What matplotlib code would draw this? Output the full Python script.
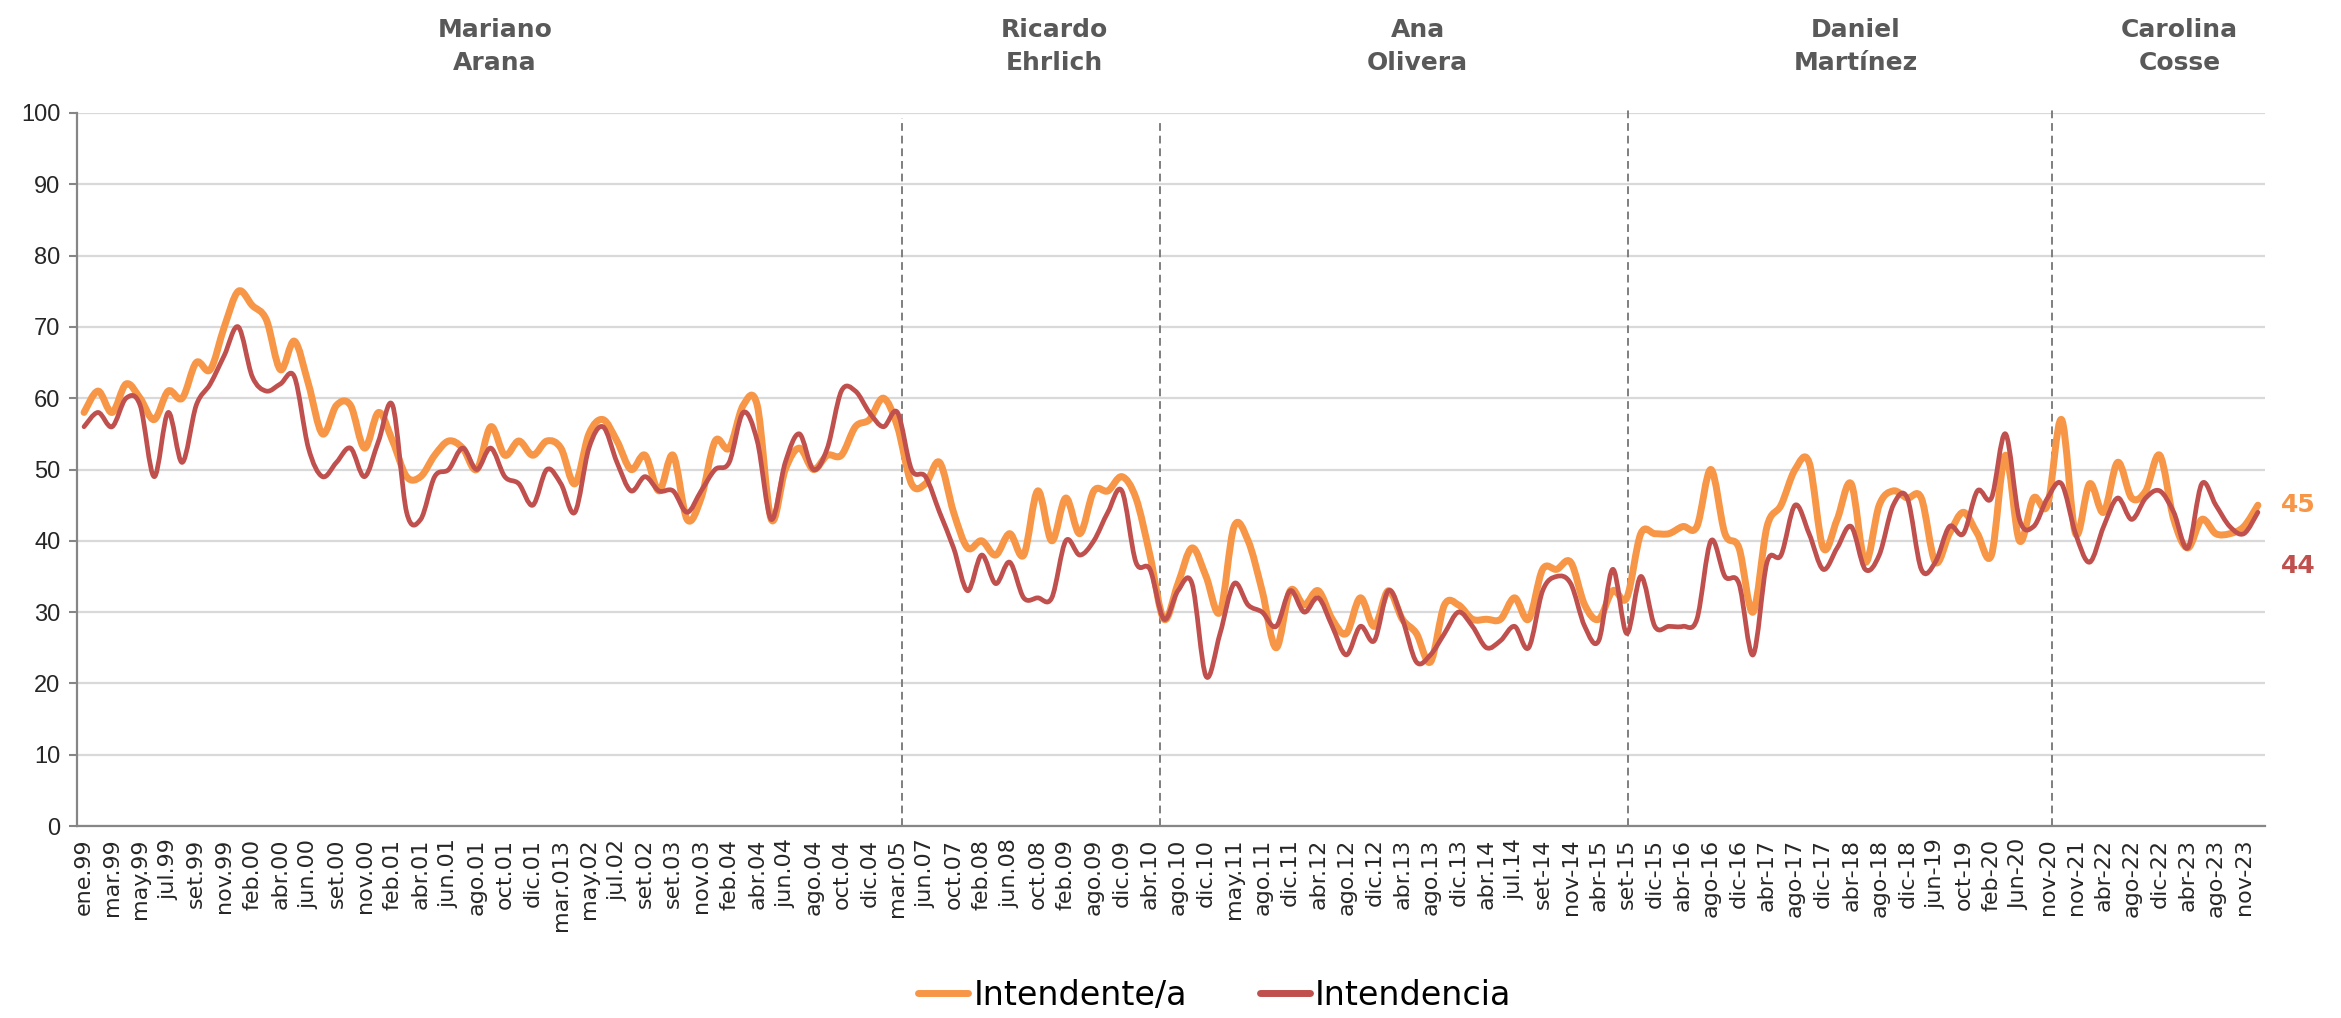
import matplotlib
matplotlib.use("Agg")
import matplotlib.pyplot as plt
import numpy as np
from matplotlib.path import Path
from matplotlib.patches import PathPatch
from matplotlib.lines import Line2D

# tick labels (one every two survey points)
tick_labels = ["ene.99", "mar.99", "may.99", "jul.99", "set.99", "nov.99", "feb.00", "abr.00",
               "jun.00", "set.00", "nov.00", "feb.01", "abr.01", "jun.01", "ago.01", "oct.01",
               "dic.01", "mar.013", "may.02", "jul.02", "set.02", "set.03", "nov.03", "feb.04",
               "abr.04", "jun.04", "ago.04", "oct.04", "dic.04", "mar.05", "jun.07", "oct.07",
               "feb.08", "jun.08", "oct.08", "feb.09", "ago.09", "dic.09", "abr.10", "ago.10",
               "dic.10", "may.11", "ago.11", "dic.11", "abr.12", "ago.12", "dic.12", "abr.13",
               "ago.13", "dic.13", "abr.14", "jul.14", "set-14", "nov-14", "abr-15", "set-15",
               "dic-15", "abr-16", "ago-16", "dic-16", "abr-17", "ago-17", "dic-17", "abr-18",
               "ago-18", "dic-18", "jun-19", "oct-19", "feb-20", "Jun-20", "nov-20", "nov-21",
               "abr-22", "ago-22", "dic-22", "abr-23", "ago-23", "nov-23"]

intendente = [58, 61, 58, 62, 60, 57, 61, 60, 65, 64, 70, 75, 73, 71, 64, 68, 62, 55, 59, 59,
              53, 58, 54, 49, 49, 52, 54, 53, 50, 56, 52, 54, 52, 54, 53, 48, 55, 57, 54, 50,
              52, 47, 52, 43, 46, 54, 53, 59, 59, 43, 50, 53, 50, 52, 52, 56, 57, 60, 56, 48,
              48, 51, 44, 39, 40, 38, 41, 38, 47, 40, 46, 41, 47, 47, 49, 46, 38, 29, 34, 39,
              35, 30, 42, 40, 33, 25, 33, 31, 33, 29, 27, 32, 28, 33, 29, 27, 23, 31, 31, 29,
              29, 29, 32, 29, 36, 36, 37, 31, 29, 33, 32, 41, 41, 41, 42, 42, 50, 41, 39, 30,
              42, 45, 50, 51, 39, 43, 48, 37, 45, 47, 46, 46, 37, 41, 44, 41, 38, 52, 40, 46,
              45, 57, 41, 48, 44, 51, 46, 47, 52, 43, 39, 43, 41, 41, 42, 45]

intendencia = [56, 58, 56, 60, 59, 49, 58, 51, 59, 62, 66, 70, 63, 61, 62, 63, 53, 49, 51, 53,
               49, 54, 59, 44, 43, 49, 50, 53, 50, 53, 49, 48, 45, 50, 48, 44, 53, 56, 51, 47,
               49, 47, 47, 44, 47, 50, 51, 58, 54, 43, 51, 55, 50, 53, 61, 61, 58, 56, 58, 50,
               49, 44, 39, 33, 38, 34, 37, 32, 32, 32, 40, 38, 40, 44, 47, 37, 36, 29, 33, 34,
               21, 27, 34, 31, 30, 28, 33, 30, 32, 28, 24, 28, 26, 33, 29, 23, 24, 27, 30, 28,
               25, 26, 28, 25, 33, 35, 34, 28, 26, 36, 27, 35, 28, 28, 28, 29, 40, 35, 34, 24,
               37, 38, 45, 41, 36, 39, 42, 36, 38, 45, 46, 36, 37, 42, 41, 47, 46, 55, 43, 42,
               46, 48, 41, 37, 42, 46, 43, 46, 47, 44, 39, 48, 45, 42, 41, 44]

names = ["Mariano\nArana", "Ricardo\nEhrlich", "Ana\nOlivera", "Daniel\nMartínez", "Carolina\nCosse"]
name_pos = [29.3, 69.2, 95.1, 126.3, 149.4]
# change of administration: x position and top of the dashed line
changes = [58.3, 76.7, 110.1, 140.3]
change_top = [99.3, 98.6, 100.7, 100.7]

ORANGE = "#F79646"
RED = "#C0504D"


def smooth_path(y):
    # Excel style smoothed line: cubic bezier segments through every point
    x = np.arange(len(y), dtype=float)
    y = np.asarray(y, dtype=float)
    pts = np.column_stack([x, y])
    verts = [pts[0]]
    codes = [Path.MOVETO]
    n = len(pts)
    for i in range(n - 1):
        p0 = pts[i - 1] if i > 0 else pts[i]
        p1 = pts[i]
        p2 = pts[i + 1]
        p3 = pts[i + 2] if i + 2 < n else pts[i + 1]
        c1 = p1 + (p2 - p0) / 6.0
        c2 = p2 - (p3 - p1) / 6.0
        verts += [c1, c2, p2]
        codes += [Path.CURVE4] * 3
    return Path(verts, codes)


fig = plt.figure(figsize=(23.41, 10.18), dpi=100)
ax = fig.add_axes([0.0329, 0.1886, 0.9346, 0.7004])

ax.add_patch(PathPatch(smooth_path(intendente), fill=False, edgecolor=ORANGE, lw=5.0,
                       capstyle="round", joinstyle="round", zorder=3))
ax.add_patch(PathPatch(smooth_path(intendencia), fill=False, edgecolor=RED, lw=3.4,
                       capstyle="round", joinstyle="round", zorder=4))

ax.set_xlim(-0.5, 155.5)
ax.set_ylim(0, 100)
ax.set_yticks(range(0, 101, 10))
ax.set_yticklabels([str(v) for v in range(0, 101, 10)], family="Liberation Sans", fontsize=17)
ax.set_xticks(range(0, 2 * len(tick_labels), 2))
ax.set_xticklabels(tick_labels, rotation=90, fontsize=16, color="#262626")
ax.tick_params(axis="x", length=0, pad=9)
ax.tick_params(axis="y", length=6, width=1.5, color="#868686", labelcolor="#262626", pad=6)
ax.grid(axis="y", color="#D9D9D9", lw=1.6, zorder=0)
ax.set_axisbelow(True)
for s in ["top", "right"]:
    ax.spines[s].set_visible(False)
for s in ["left", "bottom"]:
    ax.spines[s].set_color("#868686")
    ax.spines[s].set_linewidth(1.6)

for c, top in zip(changes, change_top):
    ax.plot([c, c], [0, top], color="#7F7F7F", lw=1.4, ls=(0, (4, 2.5)), zorder=2, clip_on=False)

for nm, p in zip(names, name_pos):
    ax.text(p, 1.093, nm, transform=ax.get_xaxis_transform(), ha="center", va="center",
            fontsize=18, fontweight="bold", color="#595959", linespacing=1.5)

ax.text(157.9, intendente[-1], str(intendente[-1]), ha="center", va="center", fontsize=18,
        fontweight="bold", color=ORANGE, clip_on=False)
ax.text(157.9, 36.4, str(intendencia[-1]), ha="center", va="center", fontsize=18,
        fontweight="bold", color=RED, clip_on=False)

handles = [Line2D([], [], color=ORANGE, lw=5, solid_capstyle="round"),
           Line2D([], [], color=RED, lw=5, solid_capstyle="round")]
fig.legend(handles, ["Intendente/a", "Intendencia"], loc="center", bbox_to_anchor=(0.519, 0.022),
           ncol=2, frameon=False, fontsize=24, handlelength=1.5, handletextpad=0.15,
           columnspacing=2.2)

fig.savefig("out.png", dpi=100)
